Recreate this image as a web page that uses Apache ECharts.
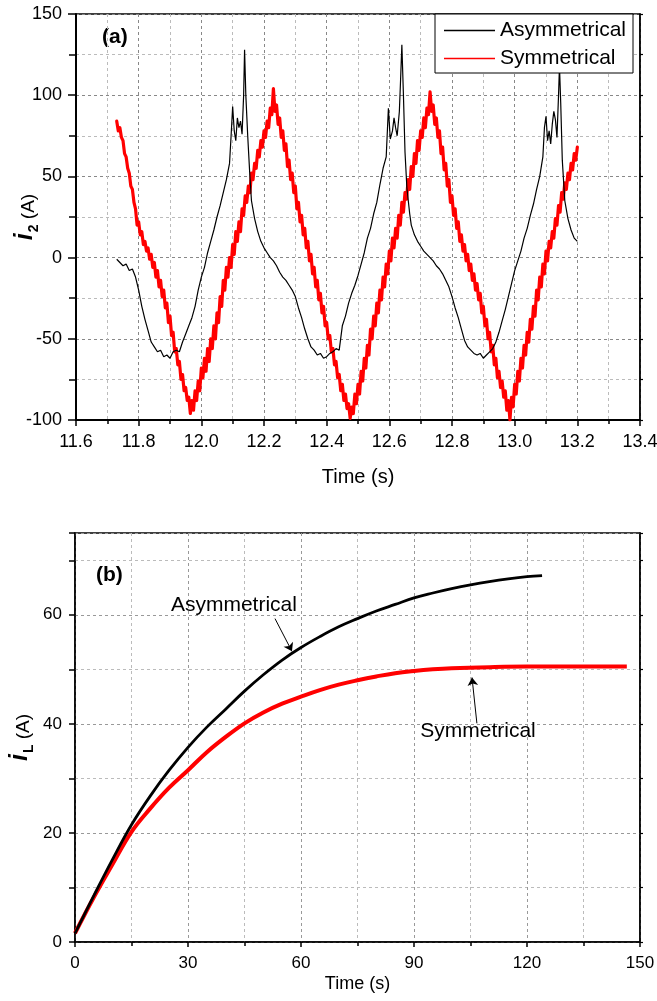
<!DOCTYPE html>
<html>
<head>
<meta charset="utf-8">
<script src="https://cdn.jsdelivr.net/npm/echarts@6/dist/echarts.min.js"></script>
<style>
  html, body { margin: 0; padding: 0; background: #fff; }
  #chart { width: 657px; height: 1001px; }
</style>
</head>
<body>
<div id="chart"></div>
<script>
// (a) secondary current i2 over one window of the run, [time s, current A]
const i2Asymmetrical = [
  [11.73,-1],[11.74,-3],[11.75,-5],[11.76,-4],[11.77,-8],[11.78,-7],[11.79,-12],[11.80,-20],
  [11.81,-30],[11.82,-38],[11.83,-45],[11.84,-52],[11.85,-55],[11.86,-58],[11.87,-57],[11.88,-61],
  [11.89,-60],[11.90,-62],[11.91,-58],[11.92,-57],[11.93,-58],[11.94,-52],[11.95,-47],[11.96,-42],
  [11.97,-37],[11.98,-30],[11.99,-20],[12.00,-12],[12.01,-6],[12.02,3],[12.03,10],[12.04,17],
  [12.05,25],[12.06,32],[12.07,40],[12.08,48],[12.09,58],[12.095,75],[12.10,93],[12.105,78],
  [12.11,72],[12.115,86],[12.12,80],[12.125,84],[12.13,76],[12.135,100],[12.138,128],[12.142,100],
  [12.148,75],[12.155,50],[12.16,35],[12.17,24],[12.18,16],[12.19,10],[12.20,6],[12.21,3],
  [12.22,0],[12.23,-2],[12.24,-5],[12.25,-9],[12.26,-12],[12.27,-14],[12.28,-17],[12.29,-20],
  [12.30,-24],[12.31,-31],[12.32,-37],[12.33,-44],[12.34,-50],[12.35,-55],[12.36,-57],[12.37,-60],
  [12.38,-59],[12.39,-62],[12.40,-61],[12.41,-59],[12.42,-58],[12.43,-56],[12.44,-57],[12.45,-42],
  [12.46,-36],[12.47,-28],[12.48,-22],[12.49,-17],[12.50,-11],[12.51,-4],[12.52,3],[12.53,12],
  [12.54,18],[12.55,27],[12.56,34],[12.57,45],[12.58,55],[12.59,62],[12.597,92],[12.603,73],
  [12.61,78],[12.615,86],[12.62,80],[12.625,75],[12.632,90],[12.636,110],[12.64,131],[12.645,100],
  [12.65,65],[12.656,43],[12.665,27],[12.67,20],[12.68,14],[12.69,10],[12.70,7],[12.71,4],
  [12.72,2],[12.73,0],[12.74,-2],[12.75,-5],[12.76,-7],[12.77,-10],[12.78,-14],[12.79,-18],
  [12.80,-24],[12.81,-31],[12.82,-37],[12.83,-44],[12.84,-51],[12.85,-55],[12.86,-57],[12.87,-59],
  [12.88,-60],[12.89,-59],[12.90,-62],[12.91,-60],[12.92,-58],[12.93,-56],[12.94,-52],[12.95,-46],
  [12.96,-39],[12.97,-32],[12.98,-24],[12.99,-16],[13.00,-8],[13.01,-2],[13.02,4],[13.03,12],
  [13.04,18],[13.05,26],[13.06,33],[13.07,42],[13.08,50],[13.09,62],[13.095,80],[13.10,87],
  [13.105,72],[13.11,78],[13.115,70],[13.12,82],[13.125,90],[13.13,85],[13.135,74],[13.14,100],
  [13.143,118],[13.147,95],[13.152,60],[13.16,35],[13.17,24],[13.18,17],[13.19,12],[13.20,10]
];

const i2Symmetrical = [
  [11.73,84],[11.735,78],[11.74,80],[11.745,74],[11.75,72],[11.755,64],[11.76,62],[11.765,55],
  [11.77,52],[11.775,44],[11.78,42],[11.785,34],[11.79,30],[11.795,20],[11.80,22],[11.805,14],
  [11.81,16],[11.815,8],[11.82,10],[11.825,4],[11.83,6],[11.835,-1],[11.84,2],[11.845,-6],
  [11.85,-3],[11.855,-12],[11.86,-8],[11.865,-18],[11.87,-14],[11.875,-24],[11.88,-20],[11.885,-31],
  [11.89,-28],[11.895,-40],[11.90,-36],[11.905,-48],[11.91,-46],[11.915,-58],[11.92,-56],[11.925,-66],
  [11.93,-64],[11.935,-75],[11.94,-72],[11.945,-82],[11.95,-80],[11.955,-88],[11.96,-86],[11.965,-96],
  [11.97,-88],[11.975,-94],[11.98,-82],[11.985,-88],[11.99,-76],[11.995,-82],[12.00,-68],[12.005,-74],
  [12.01,-62],[12.015,-70],[12.02,-56],[12.025,-64],[12.03,-50],[12.035,-56],[12.04,-42],[12.045,-50],
  [12.05,-34],[12.055,-40],[12.06,-24],[12.065,-30],[12.07,-14],[12.075,-20],[12.08,-6],[12.085,-12],
  [12.09,0],[12.095,-6],[12.10,8],[12.105,2],[12.11,16],[12.115,10],[12.12,22],[12.125,16],
  [12.13,30],[12.135,26],[12.14,38],[12.145,34],[12.15,44],[12.155,40],[12.16,52],[12.165,48],
  [12.17,58],[12.175,55],[12.18,66],[12.185,62],[12.19,72],[12.195,68],[12.20,78],[12.205,74],
  [12.21,84],[12.215,80],[12.22,92],[12.225,88],[12.23,104],[12.235,90],[12.24,94],[12.245,82],
  [12.25,86],[12.255,74],[12.26,78],[12.265,66],[12.27,70],[12.275,56],[12.28,60],[12.285,48],
  [12.29,52],[12.295,40],[12.30,44],[12.305,30],[12.31,34],[12.315,22],[12.32,26],[12.325,14],
  [12.33,18],[12.335,6],[12.34,10],[12.345,-2],[12.35,2],[12.355,-10],[12.36,-6],[12.365,-18],
  [12.37,-14],[12.375,-26],[12.38,-22],[12.385,-34],[12.39,-30],[12.395,-42],[12.40,-40],[12.405,-50],
  [12.41,-48],[12.415,-58],[12.42,-56],[12.425,-66],[12.43,-64],[12.435,-74],[12.44,-72],[12.445,-82],
  [12.45,-78],[12.455,-88],[12.46,-84],[12.465,-93],[12.47,-90],[12.475,-99],[12.48,-92],[12.485,-96],
  [12.49,-84],[12.495,-90],[12.50,-78],[12.505,-84],[12.51,-70],[12.515,-76],[12.52,-62],[12.525,-68],
  [12.53,-54],[12.535,-60],[12.54,-44],[12.545,-50],[12.55,-36],[12.555,-42],[12.56,-28],[12.565,-34],
  [12.57,-20],[12.575,-26],[12.58,-12],[12.585,-18],[12.59,-4],[12.595,-10],[12.60,4],[12.605,-2],
  [12.61,12],[12.615,6],[12.62,18],[12.625,12],[12.63,26],[12.635,20],[12.64,34],[12.645,28],
  [12.65,40],[12.655,36],[12.66,48],[12.665,42],[12.67,56],[12.675,50],[12.68,64],[12.685,58],
  [12.69,72],[12.695,66],[12.70,78],[12.705,74],[12.71,86],[12.715,80],[12.72,92],[12.725,88],
  [12.73,102],[12.735,90],[12.74,94],[12.745,82],[12.75,86],[12.755,74],[12.76,78],[12.765,64],
  [12.77,68],[12.775,54],[12.78,58],[12.785,44],[12.79,48],[12.795,34],[12.80,38],[12.805,26],
  [12.81,30],[12.815,18],[12.82,22],[12.825,10],[12.83,14],[12.835,4],[12.84,8],[12.845,-2],
  [12.85,2],[12.855,-8],[12.86,-4],[12.865,-14],[12.87,-10],[12.875,-20],[12.88,-16],[12.885,-26],
  [12.89,-22],[12.895,-34],[12.90,-30],[12.905,-42],[12.91,-38],[12.915,-50],[12.92,-46],[12.925,-58],
  [12.93,-54],[12.935,-66],[12.94,-62],[12.945,-74],[12.95,-70],[12.955,-80],[12.96,-76],[12.965,-86],
  [12.97,-82],[12.975,-94],[12.98,-88],[12.985,-100],[12.99,-86],[12.995,-92],[13.00,-78],[13.005,-84],
  [13.01,-70],[13.015,-76],[13.02,-62],[13.025,-68],[13.03,-54],[13.035,-60],[13.04,-46],[13.045,-52],
  [13.05,-38],[13.055,-44],[13.06,-30],[13.065,-36],[13.07,-20],[13.075,-26],[13.08,-12],[13.085,-18],
  [13.09,-4],[13.095,-10],[13.10,4],[13.105,-2],[13.11,10],[13.115,6],[13.12,16],[13.125,12],
  [13.13,24],[13.135,20],[13.14,32],[13.145,28],[13.15,40],[13.155,36],[13.16,46],[13.165,42],
  [13.17,52],[13.175,48],[13.18,58],[13.185,54],[13.19,64],[13.195,60],[13.20,68]
];

// (b) load current iL build-up, [time s, current A]
const iLAsymmetrical = [
  [0,1.6],[5,8.5],[10,15.2],[15,21.5],[20,26.8],[25,31.5],[30,35.7],[35,39.4],[40,42.7],
  [45,46],[50,49],[55,51.7],[60,54],[65,56],[70,57.8],[75,59.3],[80,60.7],[85,61.9],
  [90,63.1],[95,64],[100,64.8],[105,65.5],[110,66.1],[115,66.6],[120,67],[124,67.2]
];
const iLSymmetrical = [
  [0,1.6],[5,8.2],[10,14.3],[15,20.2],[20,24.5],[25,28.3],[30,31.5],[35,34.8],[40,37.6],
  [45,40.1],[50,42.1],[55,43.7],[60,45],[65,46.2],[70,47.2],[75,48],[80,48.7],[85,49.3],
  [90,49.7],[95,50],[100,50.2],[110,50.4],[120,50.5],[130,50.5],[140,50.5],[146.5,50.5]
];

// axis ranges and tick steps
const topX = { min: 11.6, max: 13.4, step: 0.2 };
const topY = { min: -100, max: 150, step: 50 };
const botX = { min: 0, max: 150, step: 30 };
const botY = { min: 0, max: 75, step: 10 };

const FONT = 'Liberation Sans, Arial, sans-serif';

function gridLines(majorColor, minorColor) {
  return {
    splitLine: { show: true, lineStyle: { color: majorColor, type: [3, 3], width: 1 } },
    minorSplitLine: { show: true, lineStyle: { color: minorColor, type: [3, 3], width: 1 } }
  };
}

function axisName(unitSize) {
  return {
    color: '#000',
    rich: {
      i: { fontFamily: FONT, fontSize: 25, fontStyle: 'italic', fontWeight: 'bold', color: '#000', verticalAlign: 'bottom' },
      sub: { fontFamily: FONT, fontSize: 14, fontWeight: 'bold', color: '#000', verticalAlign: 'bottom', padding: [0, 0, -3, 1] },
      u: { fontFamily: FONT, fontSize: unitSize, color: '#000', verticalAlign: 'bottom' }
    }
  };
}

const chart = echarts.init(document.getElementById('chart'), null, { renderer: 'canvas' });

const option = {
  animation: false,
  backgroundColor: '#fff',
  grid: [
    { left: 76, top: 14, width: 564, height: 406, outerBoundsMode: 'none', containLabel: false,
      show: true, borderColor: '#000', borderWidth: 1.5, backgroundColor: 'transparent' },
    { left: 75, top: 533, width: 565, height: 409, outerBoundsMode: 'none', containLabel: false,
      show: true, borderColor: '#000', borderWidth: 1.5, backgroundColor: 'transparent' }
  ],
  legend: {
    data: ['Asymmetrical', 'Symmetrical'],
    orient: 'vertical',
    left: 435, top: 14,
    padding: [5, 7, 3, 9],
    icon: 'rect',
    itemWidth: 51, itemHeight: 1.3, itemGap: 5,
    backgroundColor: '#fff',
    borderColor: '#000', borderWidth: 1,
    borderRadius: 0,
    textStyle: { fontFamily: FONT, fontSize: 21, color: '#000', lineHeight: 23 },
    selectedMode: false
  },
  xAxis: [
    Object.assign({
      type: 'value', gridIndex: 0,
      min: topX.min, max: topX.max, interval: topX.step,
      name: 'Time (s)', nameLocation: 'middle', nameGap: 47, nameMoveOverlap: false,
      nameTextStyle: { fontFamily: FONT, fontSize: 20, color: '#000' },
      axisLine: { show: true, onZero: false, lineStyle: { color: '#000', width: 2 } },
      axisTick: { show: true, inside: false, length: 6, lineStyle: { color: '#000', width: 1.5 } },
      minorTick: { show: true, splitNumber: 2, length: 4, lineStyle: { color: '#000', width: 1.5 } },
      axisLabel: { fontFamily: FONT, fontSize: 18, color: '#000', margin: 13,
                   formatter: v => v.toFixed(1), showMinLabel: true, showMaxLabel: true }
    }, gridLines('#888', '#bbb')),
    Object.assign({
      type: 'value', gridIndex: 1,
      min: botX.min, max: botX.max, interval: botX.step,
      name: 'Time (s)', nameLocation: 'middle', nameGap: 33, nameMoveOverlap: false,
      nameTextStyle: { fontFamily: FONT, fontSize: 18, color: '#000' },
      axisLine: { show: true, onZero: false, lineStyle: { color: '#000', width: 1.5 } },
      axisTick: { show: true, inside: false, length: 5, lineStyle: { color: '#000', width: 1.5 } },
      minorTick: { show: true, splitNumber: 2, length: 4, lineStyle: { color: '#000', width: 1.5 } },
      axisLabel: { fontFamily: FONT, fontSize: 17, color: '#000', margin: 13 }
    }, gridLines('#999', '#bbb'))
  ],
  yAxis: [
    Object.assign({
      type: 'value', gridIndex: 0,
      min: topY.min, max: topY.max, interval: topY.step,
      name: '{i|i}{sub|2}{u| (A)}', nameLocation: 'middle', nameGap: 38, nameRotate: 90, nameMoveOverlap: false,
      nameTextStyle: axisName(19),
      axisLine: { show: true, onZero: false, lineStyle: { color: '#000', width: 2 } },
      axisTick: { show: true, inside: false, length: 8, lineStyle: { color: '#000', width: 1.5 } },
      minorTick: { show: true, splitNumber: 2, length: 7, lineStyle: { color: '#000', width: 1.5 } },
      axisLabel: { fontFamily: FONT, fontSize: 18, color: '#000', margin: 14 }
    }, gridLines('#888', '#bbb')),
    {
      type: 'value', gridIndex: 0, position: 'right',
      min: topY.min, max: topY.max, interval: topY.step,
      axisLine: { show: true, onZero: false, lineStyle: { color: '#000', width: 1.5 } },
      axisTick: { show: true, inside: false, length: 3, lineStyle: { color: '#000', width: 1.2 } },
      minorTick: { show: true, splitNumber: 2, length: 3, lineStyle: { color: '#000', width: 1.2 } },
      axisLabel: { show: false }, splitLine: { show: false }
    },
    {
      type: 'value', gridIndex: 1,
      min: botY.min, max: botY.max, interval: botY.step,
      name: '{i|i}{sub|L}{u| (A)}', nameLocation: 'middle', nameGap: 42, nameRotate: 90, nameMoveOverlap: false,
      nameTextStyle: axisName(19),
      axisLine: { show: true, onZero: false, lineStyle: { color: '#000', width: 1.5 } },
      axisTick: { show: true, inside: false, length: 6, lineStyle: { color: '#000', width: 1.5 } },
      axisLabel: { fontFamily: FONT, fontSize: 17, color: '#000', margin: 13,
                   formatter: v => (v % 20 === 0 ? String(v) : '') },
      splitLine: { show: true, lineStyle: { color: ['#999', '#bbb'], type: [3, 3], width: 1 } }
    },
    {
      type: 'value', gridIndex: 1, position: 'right',
      min: botY.min, max: botY.max, interval: botY.step,
      axisLine: { show: true, onZero: false, lineStyle: { color: '#000', width: 1.5 } },
      axisTick: { show: true, inside: false, length: 3, lineStyle: { color: '#000', width: 1.2 } },
      axisLabel: { show: false }, splitLine: { show: false }
    }
  ],
  series: [
    {
      name: 'Asymmetrical', type: 'line', xAxisIndex: 0, yAxisIndex: 0,
      data: i2Asymmetrical, symbol: 'none', z: 3,
      lineStyle: { color: '#000', width: 1.2 }, itemStyle: { color: '#000' }
    },
    {
      name: 'Symmetrical', type: 'line', xAxisIndex: 0, yAxisIndex: 0,
      data: i2Symmetrical, symbol: 'none', z: 2,
      lineStyle: { color: '#ff0000', width: 3.2, join: 'round', cap: 'round' }, itemStyle: { color: '#ff0000' }
    },
    {
      name: 'iL asymmetrical', type: 'line', xAxisIndex: 1, yAxisIndex: 2,
      data: iLAsymmetrical, symbol: 'none', smooth: 0.4, z: 3,
      lineStyle: { color: '#000', width: 2.8 }, itemStyle: { color: '#000' },
      markLine: {
        silent: true, symbol: ['none', 'arrow'], symbolSize: 8,
        lineStyle: { color: '#000', width: 1, type: 'solid' },
        label: { show: false },
        data: [[{ coord: [53.1, 59.3] }, { coord: [57.6, 53.3] }]]
      },
      markPoint: {
        silent: true, symbol: 'circle', symbolSize: 0,
        label: { show: true, position: 'inside', fontFamily: FONT, fontSize: 21, color: '#000', formatter: '{b}' },
        data: [{ name: 'Asymmetrical', coord: [42.2, 61.7] }]
      }
    },
    {
      name: 'iL symmetrical', type: 'line', xAxisIndex: 1, yAxisIndex: 2,
      data: iLSymmetrical, symbol: 'none', smooth: 0.4, z: 2,
      lineStyle: { color: '#ff0000', width: 4 }, itemStyle: { color: '#ff0000' },
      markLine: {
        silent: true, symbol: ['none', 'arrow'], symbolSize: 8,
        lineStyle: { color: '#000', width: 1, type: 'solid' },
        label: { show: false },
        data: [[{ coord: [106.7, 40.1] }, { coord: [105.4, 48.5] }]]
      },
      markPoint: {
        silent: true, symbol: 'circle', symbolSize: 0,
        label: { show: true, position: 'inside', fontFamily: FONT, fontSize: 21, color: '#000', formatter: '{b}' },
        data: [{ name: 'Symmetrical', coord: [107, 38.7] }]
      }
    }
  ],
  graphic: [
    { type: 'text', left: 102, top: 27, style: { text: '(a)', font: 'bold 21px ' + FONT, fill: '#000' } },
    { type: 'text', left: 96, top: 565, style: { text: '(b)', font: 'bold 21px ' + FONT, fill: '#000' } }
  ]
};

chart.setOption(option);
</script>
</body>
</html>
